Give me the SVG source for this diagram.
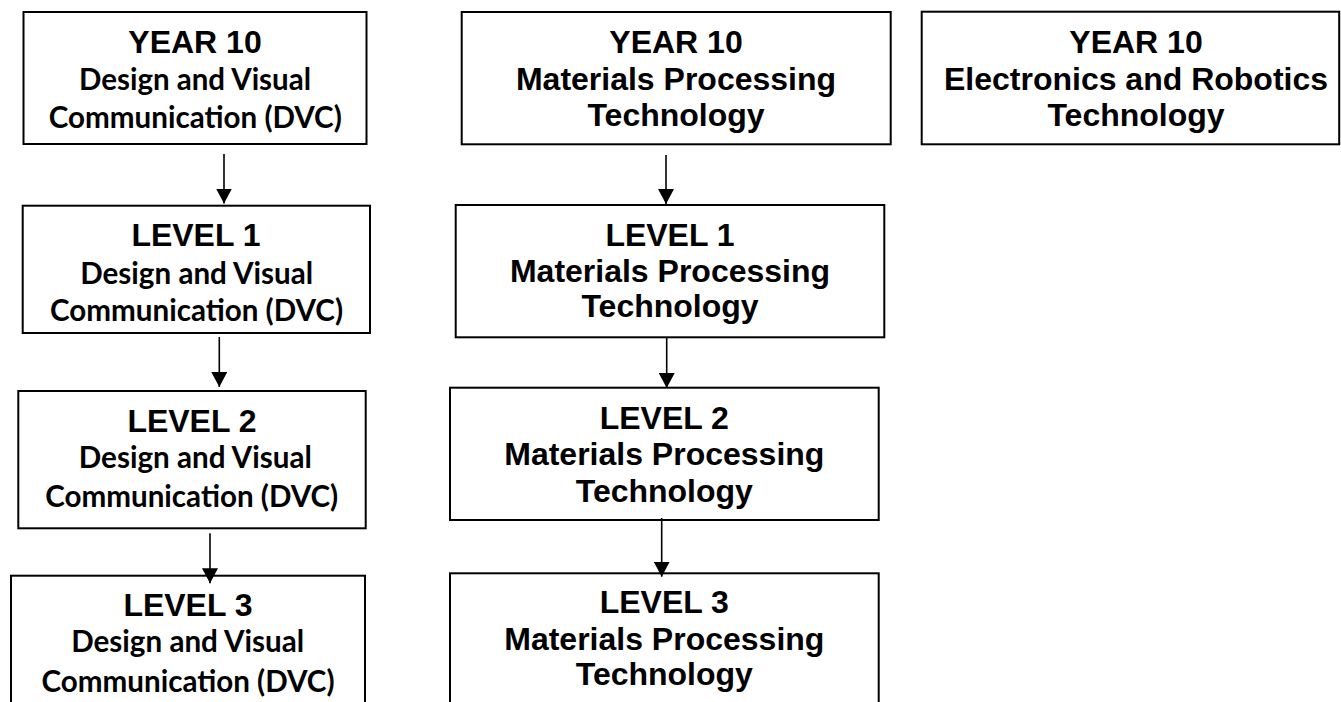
<svg xmlns="http://www.w3.org/2000/svg" width="1341" height="702" viewBox="0 0 1341 702">
<style>
.box{fill:#fff;stroke:#000;stroke-width:2}
.h{font-family:"Liberation Sans",Arial,sans-serif;font-weight:bold;font-size:32px;fill:#000;text-anchor:middle}
.c{font-family:Lato,"Open Sans",sans-serif;font-weight:bold;font-size:31px;fill:#000;text-anchor:middle}
.conn{stroke:#000;stroke-width:1.6;fill:none}
</style>
<defs>
<marker id="arr" markerUnits="userSpaceOnUse" markerWidth="16" markerHeight="16" viewBox="0 0 16 16" refX="15" refY="8" orient="auto">
<path d="M0,0 L15,8 L0,16 Z" fill="#000"/>
</marker>
</defs>
<rect width="1341" height="702" fill="#fff"/>
<g id="dvc-y10">
<rect class="box" x="23.5" y="12" width="343" height="132"/>
<text class="h" x="195" y="53">YEAR 10</text>
<text class="c" x="195" y="90" textLength="232" lengthAdjust="spacingAndGlyphs">Design and Visual</text>
<text class="c" x="195.3" y="128" textLength="293" lengthAdjust="spacingAndGlyphs">Communication (DVC)</text>
</g>
<g id="dvc-l1">
<rect class="box" x="22.7" y="205.7" width="347.3" height="127.3"/>
<text class="h" x="196" y="246">LEVEL 1</text>
<text class="c" x="196.7" y="284" textLength="233" lengthAdjust="spacingAndGlyphs">Design and Visual</text>
<text class="c" x="196.5" y="321" textLength="293" lengthAdjust="spacingAndGlyphs">Communication (DVC)</text>
</g>
<g id="dvc-l2">
<rect class="box" x="18.3" y="391" width="347.4" height="137.3"/>
<text class="h" x="192" y="431.5">LEVEL 2</text>
<text class="c" x="195.3" y="468" textLength="233" lengthAdjust="spacingAndGlyphs">Design and Visual</text>
<text class="c" x="191.7" y="507" textLength="293" lengthAdjust="spacingAndGlyphs">Communication (DVC)</text>
</g>
<g id="dvc-l3">
<rect class="box" x="11" y="575.7" width="354" height="150"/>
<text class="h" x="188" y="615.5">LEVEL 3</text>
<text class="c" x="187.7" y="651.5" textLength="233" lengthAdjust="spacingAndGlyphs">Design and Visual</text>
<text class="c" x="188" y="691.5" textLength="293" lengthAdjust="spacingAndGlyphs">Communication (DVC)</text>
</g>
<g id="mpt-y10">
<rect class="box" x="461.7" y="12" width="429" height="132.3"/>
<text class="h" x="676" y="53">YEAR 10</text>
<text class="h" x="676" y="90">Materials Processing</text>
<text class="h" x="676" y="126">Technology</text>
</g>
<g id="mpt-l1">
<rect class="box" x="455.7" y="205" width="428.6" height="132.3"/>
<text class="h" x="670" y="246">LEVEL 1</text>
<text class="h" x="670" y="281.7">Materials Processing</text>
<text class="h" x="670" y="316.7">Technology</text>
</g>
<g id="mpt-l2">
<rect class="box" x="450" y="387.7" width="428.7" height="132.3"/>
<text class="h" x="664.3" y="429">LEVEL 2</text>
<text class="h" x="664.3" y="465">Materials Processing</text>
<text class="h" x="664.3" y="501.7">Technology</text>
</g>
<g id="mpt-l3">
<rect class="box" x="450" y="573.3" width="428.7" height="150"/>
<text class="h" x="664.3" y="613.3">LEVEL 3</text>
<text class="h" x="664.3" y="650">Materials Processing</text>
<text class="h" x="664.3" y="685">Technology</text>
</g>
<g id="ert-y10">
<rect class="box" x="921.7" y="11.7" width="417.5" height="132.6"/>
<text class="h" x="1136" y="53">YEAR 10</text>
<text class="h" x="1136" y="90">Electronics and Robotics</text>
<text class="h" x="1136" y="126">Technology</text>
</g>
<g id="connectors">
<line class="conn" x1="224" y1="154" x2="224" y2="203.5" marker-end="url(#arr)"/>
<line class="conn" x1="219.3" y1="337" x2="219.3" y2="387" marker-end="url(#arr)"/>
<line class="conn" x1="210" y1="533.3" x2="210" y2="583.3" marker-end="url(#arr)"/>
<line class="conn" x1="666" y1="155" x2="666" y2="204" marker-end="url(#arr)"/>
<line class="conn" x1="666.7" y1="337.3" x2="666.7" y2="388" marker-end="url(#arr)"/>
<line class="conn" x1="661.7" y1="518" x2="661.7" y2="576.7" marker-end="url(#arr)"/>
</g>
</svg>
